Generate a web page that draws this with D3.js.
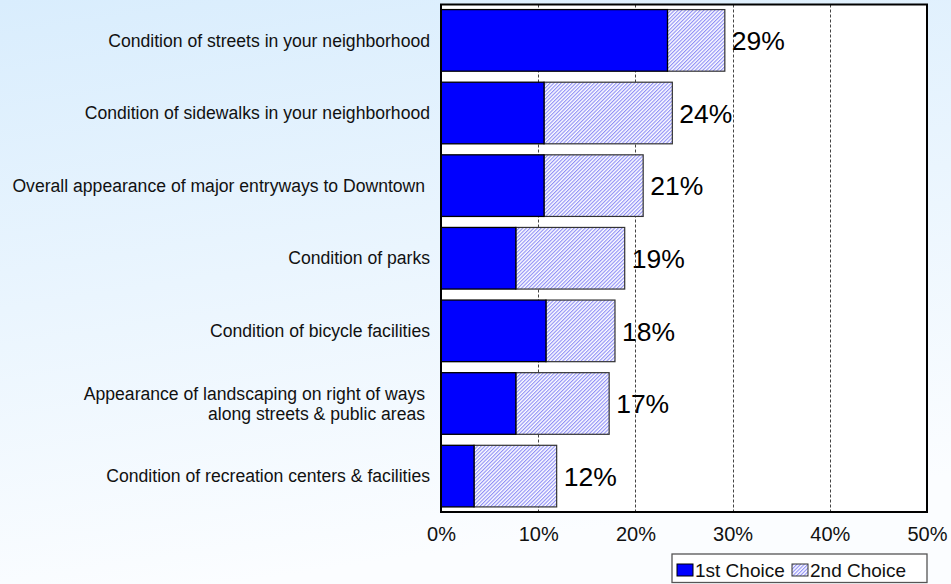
<!DOCTYPE html>
<html>
<head>
<meta charset="utf-8">
<script src="https://cdn.jsdelivr.net/npm/d3@7"></script>
<style>
  html, body { margin: 0; padding: 0; }
  body { width: 951px; height: 584px; overflow: hidden; }
  svg { display: block; font-family: Arial, "Liberation Sans", sans-serif; }
</style>
</head>
<body>
<svg id="chart" width="951" height="584"></svg>
<script>
const categories = [
  "Condition of streets in your neighborhood",
  "Condition of sidewalks in your neighborhood",
  "Overall appearance of major entryways to Downtown ",
  "Condition of parks",
  "Condition of bicycle facilities",
  "Appearance of landscaping on right of ways \nalong streets & public areas ",
  "Condition of recreation centers & facilities"
];
const firstChoice  = [23.3, 10.6, 10.6, 7.7, 10.8, 7.7, 3.4];
const secondChoice = [5.9, 13.2, 10.2, 11.2, 7.1, 9.6, 8.5];
const seriesNames = ["1st Choice", "2nd Choice"];
const xTicks = [0, 10, 20, 30, 40, 50];

const svg = d3.select("#chart");
const W = 951, H = 584;
const plot = { left: 441, right: 927, top: 4.5, bottom: 512 };

// background gradient
const defs = svg.append("defs");
const grad = defs.append("linearGradient").attr("id", "bg")
  .attr("x1", "0").attr("y1", "0").attr("x2", "0.25").attr("y2", "1");
grad.append("stop").attr("offset", "0").attr("stop-color", "#d9edfd");
grad.append("stop").attr("offset", "1").attr("stop-color", "#fbfdff");
svg.append("rect").attr("width", W).attr("height", H).attr("fill", "url(#bg)");

// hatch pattern
const pat = defs.append("pattern").attr("id", "hatch")
  .attr("patternUnits", "userSpaceOnUse").attr("width", 2.6).attr("height", 2.6)
  .attr("patternTransform", "rotate(45)");
pat.append("rect").attr("width", 2.6).attr("height", 2.6).attr("fill", "#ffffff");
pat.append("line").attr("x1", 0.6).attr("y1", 0).attr("x2", 0.6).attr("y2", 2.6)
  .attr("stroke", "#8484f6").attr("stroke-width", 1.05);

const x = d3.scaleLinear().domain([0, 50]).range([plot.left, plot.right]);
const y = d3.scaleBand().domain(categories).range([plot.top, plot.bottom])
  .paddingInner(0.1515).paddingOuter(0.07);

// plot area
svg.append("rect").attr("x", plot.left).attr("y", plot.top)
  .attr("width", plot.right - plot.left).attr("height", plot.bottom - plot.top)
  .attr("fill", "#ffffff");

// gridlines
svg.append("g").selectAll("line").data(xTicks.filter(t => t > 0 && t < 50)).join("line")
  .attr("x1", d => Math.round(x(d)) + 0.5).attr("x2", d => Math.round(x(d)) + 0.5)
  .attr("y1", plot.top).attr("y2", plot.bottom)
  .attr("stroke", "#444").attr("stroke-width", 1).attr("stroke-dasharray", "3,2");

const data = categories.map((c, i) => ({ c, a: firstChoice[i], b: secondChoice[i] }));

// bars
const bars = svg.append("g");
bars.selectAll(".b2").data(data).join("rect")
  .attr("x", d => x(d.a)).attr("y", d => y(d.c))
  .attr("width", d => x(d.a + d.b) - x(d.a)).attr("height", y.bandwidth())
  .attr("fill", "url(#hatch)").attr("stroke", "#333").attr("stroke-width", 1.2);
bars.selectAll(".b1").data(data).join("rect")
  .attr("x", x(0)).attr("y", d => y(d.c))
  .attr("width", d => x(d.a) - x(0)).attr("height", y.bandwidth())
  .attr("fill", "#0000ff").attr("stroke", "#000").attr("stroke-width", 1.3);

// value labels
svg.append("g").selectAll("text").data(data).join("text")
  .attr("x", d => x(d.a + d.b) + 7)
  .attr("y", d => y(d.c) + y.bandwidth() / 2)
  .attr("dy", "0.37em")
  .attr("font-size", 26.5).attr("fill", "#000")
  .text(d => Math.round(d.a + d.b) + "%");

// plot border
svg.append("rect").attr("x", plot.left).attr("y", plot.top)
  .attr("width", plot.right - plot.left).attr("height", plot.bottom - plot.top)
  .attr("fill", "none").attr("stroke", "#000").attr("stroke-width", 2);

// category axis labels
const catG = svg.append("g");
data.forEach(d => {
  const lines = d.c.split("\n");
  const cy = y(d.c) + y.bandwidth() / 2;
  const lh = 20;
  const t = catG.append("text")
    .attr("text-anchor", "end").attr("font-size", 17.6).attr("fill", "#111")
    .style("white-space", "pre");
  lines.forEach((ln, k) => {
    t.append("tspan").attr("x", plot.left - 11)
      .attr("y", cy + (k - (lines.length - 1) / 2) * lh)
      .attr("dy", "0.35em").text(ln);
  });
});

// x axis
const xAxis = d3.axisBottom(x).tickValues(xTicks).tickSize(0).tickPadding(0)
  .tickFormat(d => d + "%");
svg.append("g").attr("transform", `translate(0,${plot.bottom})`).call(xAxis)
  .call(g => g.select(".domain").remove())
  .call(g => g.selectAll("text").attr("font-size", 20).attr("fill", "#111")
    .attr("font-family", "Arial, 'Liberation Sans', sans-serif")
    .attr("y", 29).attr("dy", 0));

// legend
const lg = svg.append("g");
lg.append("rect").attr("x", 672).attr("y", 554).attr("width", 255).attr("height", 28.5)
  .attr("fill", "#ffffff").attr("stroke", "#555").attr("stroke-width", 1.3);
const items = [
  { name: seriesNames[0], fill: "#0000ff", stroke: "#000", sx: 677, tx: 695 },
  { name: seriesNames[1], fill: "url(#hatch)", stroke: "#333", sx: 792, tx: 810 }
];
items.forEach(it => {
  lg.append("rect").attr("x", it.sx).attr("y", 564).attr("width", 16).attr("height", 12)
    .attr("fill", it.fill).attr("stroke", it.stroke).attr("stroke-width", 1);
  lg.append("text").attr("x", it.tx).attr("y", 576.5).attr("font-size", 19)
    .attr("fill", "#111").text(it.name);
});
</script>
</body>
</html>
